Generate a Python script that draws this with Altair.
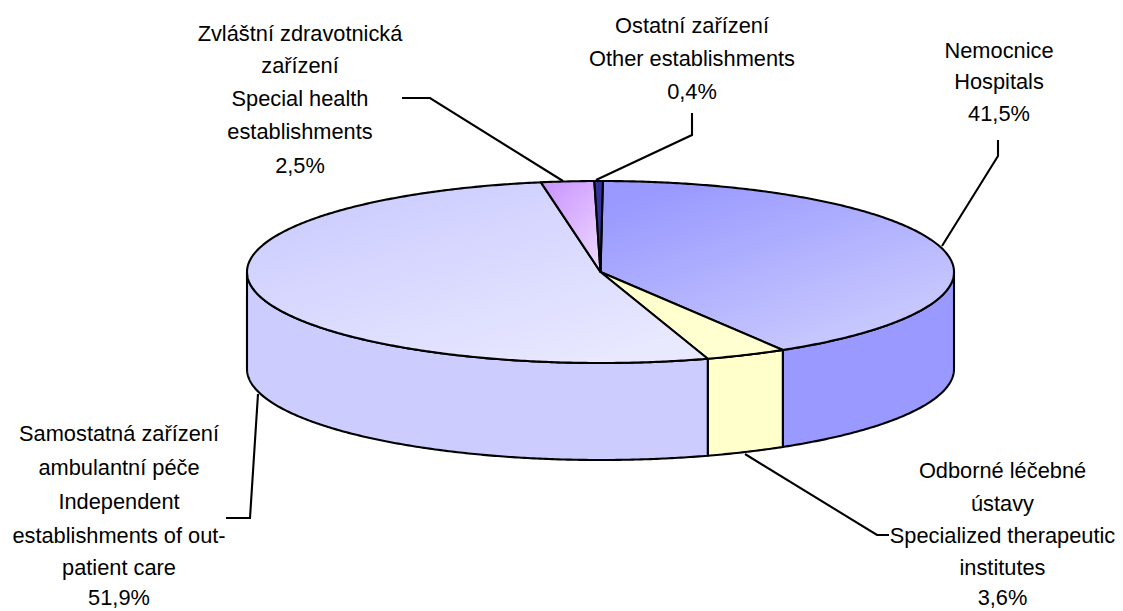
import numpy as np
import altair as alt

names = ["Nemocnice", "Odborné", "Samostatná", "Zvláštní", "Ostatní"]
values = [41.5, 3.6, 51.9, 2.5, 0.4]
side_colors = ["#9999FF", "#FFFFCC", "#CCCCFF", "#CC99FF", "#333399"]
top_from = ["#9999FF", "#FFFFCC", "#CCCCFF", "#CC99FF", "#333399"]
top_to = ["#CCCCFF", "#FFFFD2", "#E8E8FF", "#EBD3FF", "#333399"]

label_lines = [
    ["Nemocnice", "Hospitals", "41,5%"],
    ["Odborné léčebné", "ústavy", "Specialized therapeutic", "institutes", "3,6%"],
    ["Samostatná zařízení", "ambulantní péče", "Independent", "establishments of out-", "patient care", "51,9%"],
    ["Zvláštní zdravotnická", "zařízení", "Special health", "establishments", "2,5%"],
    ["Ostatní zařízení", "Other establishments", "0,4%"],
]
label_x = [999, 1002.5, 119, 300, 692]
label_y = [
    [51, 82, 114],
    [471, 504, 536, 568, 598],
    [434, 468, 502, 536, 568, 598],
    [34, 66, 99, 132, 166],
    [26, 59, 92],
]
leaders = [
    [[998, 140], [998, 156], [942, 246]],
    [[745, 454], [877, 535], [889, 535]],
    [[258, 394], [250, 518], [226, 518]],
    [[402, 98], [430, 98], [563, 181]],
    [[692, 113], [692, 135], [596, 180]],
]

CX, CY, RX, RY, DEPTH = 600.5, 272.0, 353.5, 91.0, 97.0
START = 0.4
PERSPECTIVE = 2.0
W, H = 1107, 603

proj = dict(type="identity", scale=1, translate=[-8, -8])
total = sum(values)
edges = START + np.concatenate([[0], np.cumsum(values)]) / total * 360
edges = edges - PERSPECTIVE * np.sin(np.radians(edges))


def rim(a0, a1, dy=0.0):
    n = max(2, int(abs(a1 - a0)) * 2 + 2)
    t = np.radians(np.linspace(a0, a1, n))
    return [[float(CX + RX * np.sin(v)), float(CY - RY * np.cos(v) + dy)] for v in t]


def poly(points):
    ring = points + [points[0]]
    return {"type": "Feature", "properties": {}, "geometry": {"type": "Polygon", "coordinates": [ring]}}


def shape(feature, fill):
    return alt.Chart(alt.Data(values=[feature])).mark_geoshape(
        fill=fill, stroke="black", strokeWidth=2.1, strokeJoin="round"
    ).project(**proj)


layers = []
# side walls: only the front half (90..270 degrees) is visible
for i in range(len(values)):
    a0, a1 = max(edges[i], 90.0), min(edges[i + 1], 270.0)
    if a1 > a0:
        layers.append(shape(poly(rim(a0, a1) + rim(a1, a0, DEPTH)), side_colors[i]))

# top faces
for i in range(len(values)):
    grad = alt.Gradient(
        gradient="linear",
        stops=[alt.GradientStop(color=top_from[i], offset=0), alt.GradientStop(color=top_to[i], offset=1)],
        x1=0.1, y1=0.1, x2=0.75, y2=1,
    )
    layers.append(shape(poly([[CX, CY]] + rim(edges[i], edges[i + 1])), grad))

# leader lines
for pts in leaders:
    f = {"type": "Feature", "properties": {}, "geometry": {"type": "LineString", "coordinates": pts}}
    layers.append(
        alt.Chart(alt.Data(values=[f])).mark_geoshape(
            filled=False, stroke="black", strokeWidth=2.1, strokeJoin="miter"
        ).project(**proj)
    )

# labels
rows = []
for k, lines in enumerate(label_lines):
    for line, y in zip(lines, label_y[k]):
        rows.append({"text": line, "lon": label_x[k], "lat": y})
layers.append(
    alt.Chart(alt.Data(values=rows)).mark_text(
        font="Liberation Sans", fontSize=21.8, color="black", align="center", baseline="middle"
    ).encode(
        longitude="lon:Q", latitude="lat:Q", text="text:N"
    ).project(**proj)
)

chart = alt.layer(*layers).properties(width=W, height=H, padding=0, background="white").configure_view(stroke=None)
chart.save("out.html", embed_options={"renderer": "svg", "actions": False})
